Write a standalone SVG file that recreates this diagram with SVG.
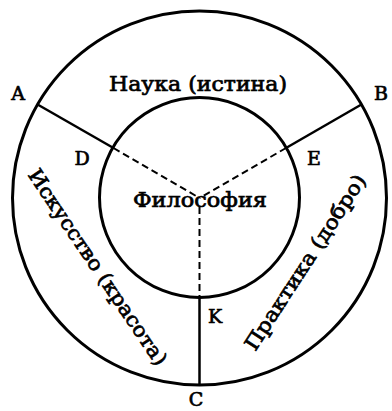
<svg xmlns="http://www.w3.org/2000/svg" width="392" height="411" viewBox="0 0 392 411">
<style>
.ring{fill:none;stroke:#000;stroke-width:3}
.solid{stroke:#000;stroke-width:2.5;fill:none}
.dash{stroke:#000;stroke-width:2;stroke-dasharray:7 4;fill:none}
text{font-family:"DejaVu Serif","Liberation Serif",serif;fill:#000;stroke:#000;stroke-width:0.7}
.lbl{font-size:20px}
.pt{font-size:19px}
</style>
<rect width="392" height="411" fill="#fff"/>
<g id="connectors">
<line class="solid" x1="37.6" y1="104.5" x2="113.5" y2="148"/>
<line class="solid" x1="361.4" y1="104.5" x2="286" y2="148"/>
<line class="solid" x1="199.5" y1="298" x2="199.5" y2="385"/>
<line class="dash" x1="113.5" y1="148" x2="199.5" y2="198"/>
<line class="dash" x1="286" y1="148" x2="199.5" y2="198"/>
<line class="dash" x1="199.5" y1="207" x2="199.5" y2="298"/>
</g>
<g id="outer">
<circle class="ring" cx="199.5" cy="198" r="187"/>
</g>
<g id="nauka">
<text class="lbl" x="198" y="91" text-anchor="middle" textLength="178" lengthAdjust="spacingAndGlyphs">Наука (истина)</text>
</g>
<g id="iskusstvo">
<text class="lbl" text-anchor="middle" transform="translate(92 271) rotate(56)" textLength="232" lengthAdjust="spacingAndGlyphs">Искусство (красота)</text>
</g>
<g id="praktika">
<text class="lbl" text-anchor="middle" transform="translate(311 266) rotate(-57)" textLength="205" lengthAdjust="spacingAndGlyphs">Практика (добро)</text>
</g>
<g id="filosofia">
<circle class="ring" cx="199.5" cy="197.5" r="100"/>
<text class="lbl" x="200" y="207" text-anchor="middle" textLength="134" lengthAdjust="spacingAndGlyphs">Философия</text>
</g>
<g id="points">
<text class="pt" x="18" y="100" text-anchor="middle">A</text>
<text class="pt" x="381" y="100" text-anchor="middle">B</text>
<text class="pt" x="196" y="406" text-anchor="middle">C</text>
<text class="pt" x="82" y="165" text-anchor="middle">D</text>
<text class="pt" x="314" y="165" text-anchor="middle">E</text>
<text class="pt" x="215" y="323" text-anchor="middle">K</text>
</g>
</svg>
